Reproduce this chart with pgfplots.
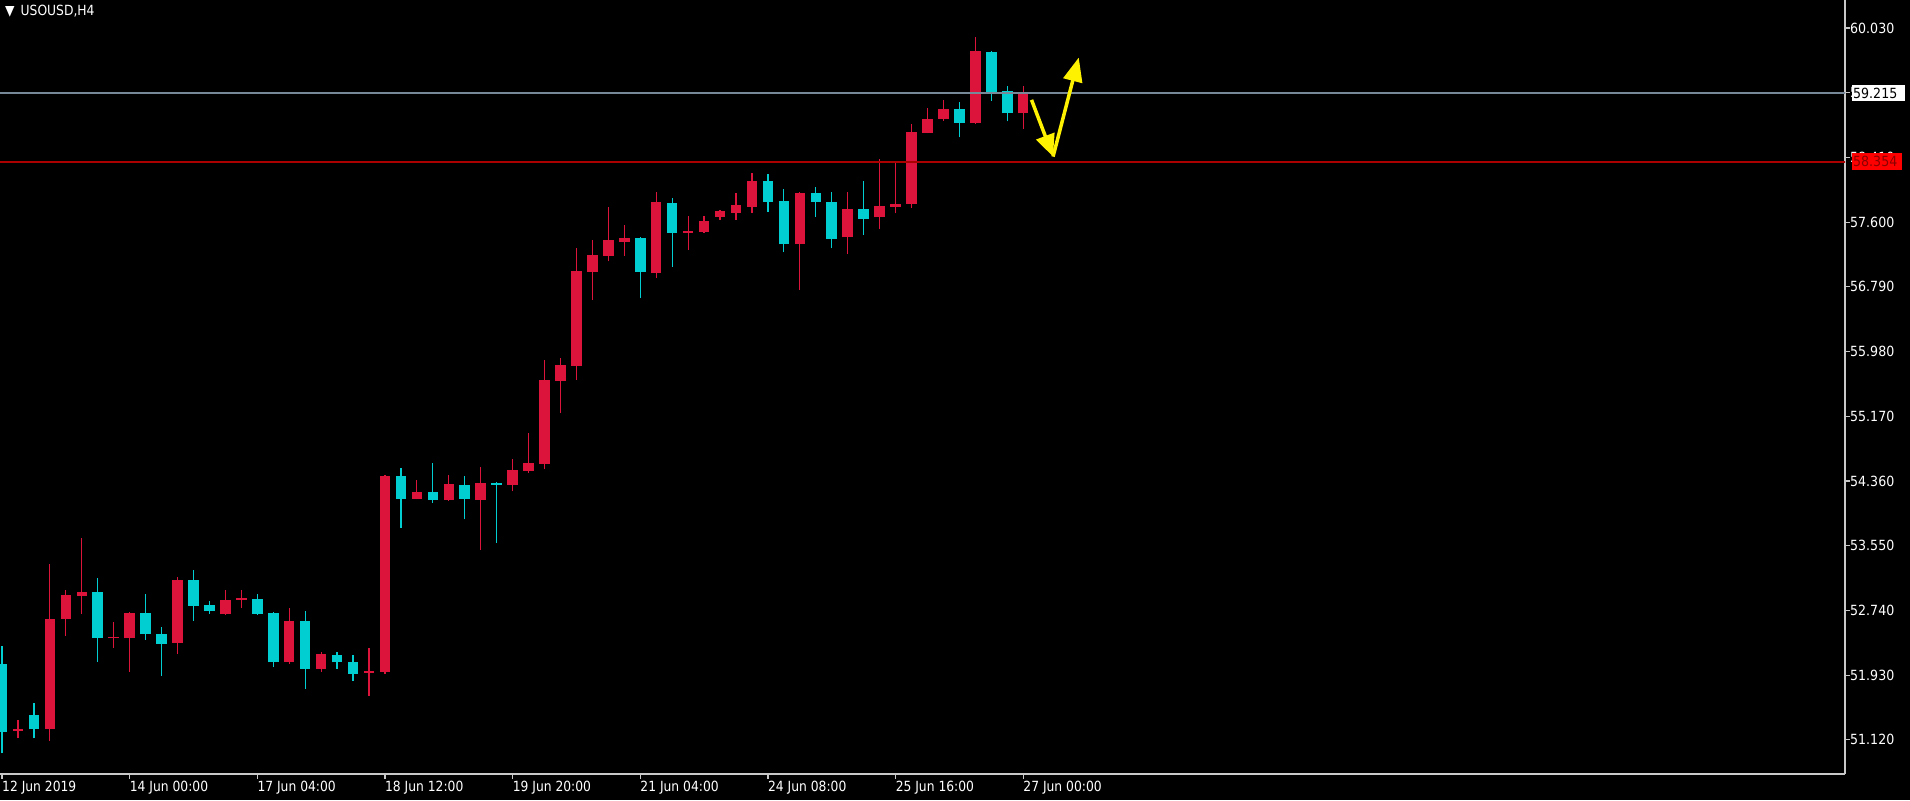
\documentclass[border=0pt]{standalone}
\usepackage{fontspec}
\usepackage{pgfplots}
\usepackage{pgfplotstable}
\pgfplotsset{compat=1.18}
\usetikzlibrary{arrows.meta}
\newfontfamily\mtfont[FakeStretch=0.88]{DejaVu Sans}
\newfontfamily\pxfont[FakeStretch=0.9]{DejaVu Sans}
\newcommand\labfont{\mtfont\fontsize{14pt}{16pt}\selectfont}
\newcommand\pricefont{\pxfont\fontsize{14pt}{16pt}\selectfont}
\definecolor{bullc}{RGB}{220,20,60}
\definecolor{bearc}{RGB}{0,206,209}
\definecolor{axcol}{RGB}{200,200,200}
\definecolor{bidc}{RGB}{119,136,153}
\definecolor{lvlc}{RGB}{170,0,0}
\definecolor{lvlbox}{RGB}{255,0,0}
\definecolor{lvltxt}{RGB}{140,0,0}

% USOUSD H4 candles, red = close above open
\pgfplotstableread{
i o h l c
1 51.23 51.37 51.14 51.25
3 51.26 53.32 51.11 52.63
4 52.63 53.00 52.42 52.93
5 52.92 53.65 52.70 52.97
7 52.39 52.59 52.27 52.41
8 52.39 52.72 51.97 52.71
11 52.33 53.16 52.19 53.12
14 52.69 52.99 52.68 52.87
15 52.87 53.00 52.77 52.89
18 52.10 52.77 52.07 52.61
20 52.01 52.22 51.975 52.19
23 51.96 52.27 51.67 51.98
24 51.97 54.43 51.95 54.42
26 54.14 54.37 54.13 54.22
28 54.12 54.44 54.11 54.32
30 54.12 54.53 53.50 54.34
32 54.31 54.64 54.23 54.50
33 54.49 54.96 54.46 54.59
34 54.57 55.87 54.51 55.62
35 55.61 55.90 55.21 55.81
36 55.80 57.27 55.63 56.99
37 56.98 57.38 56.63 57.19
38 57.18 57.79 57.11 57.37
39 57.35 57.56 57.18 57.40
41 56.96 57.98 56.90 57.85
43 57.47 57.68 57.25 57.49
44 57.48 57.68 57.47 57.61
45 57.67 57.75 57.63 57.74
46 57.72 57.96 57.63 57.81
47 57.79 58.22 57.72 58.12
50 57.32 57.98 56.75 57.97
53 57.41 57.98 57.20 57.77
55 57.66 58.39 57.52 57.80
56 57.79 58.36 57.71 57.83
57 57.83 58.83 57.78 58.73
58 58.72 59.03 58.71 58.89
59 58.89 59.13 58.87 59.02
61 58.84 59.92 58.83 59.74
64 58.96 59.30 58.77 59.22
}\bull

\pgfplotstableread{
i o h l c
0 52.07 52.29 50.95 51.22
2 51.43 51.58 51.14 51.25
6 52.97 53.15 52.10 52.39
9 52.71 52.95 52.37 52.44
10 52.45 52.53 51.92 52.32
12 53.12 53.25 52.61 52.80
13 52.81 52.86 52.70 52.73
16 52.88 52.95 52.68 52.70
17 52.71 52.72 52.03 52.09
19 52.61 52.73 51.76 52.01
21 52.18 52.22 52.01 52.09
22 52.10 52.18 51.86 51.95
25 54.42 54.52 53.77 54.14
27 54.22 54.59 54.09 54.12
29 54.31 54.42 53.88 54.14
31 54.34 54.35 53.59 54.31
40 57.40 57.41 56.65 56.98
42 57.84 57.90 57.04 57.47
48 58.12 58.20 57.73 57.85
49 57.86 58.01 57.22 57.32
51 57.97 58.04 57.67 57.85
52 57.85 57.98 57.27 57.39
54 57.77 58.11 57.44 57.64
60 59.02 59.10 58.66 58.84
62 59.73 59.74 59.12 59.23
63 59.24 59.30 58.86 58.96
}\bear

\begin{document}
\begin{tikzpicture}
\path[use as bounding box, fill=black] (0,0) rectangle (1910pt,800pt);
\begin{axis}[
  at={(0pt,26pt)}, anchor=south west,
  width=1845pt, height=774pt, scale only axis,
  xmin=-0.125, xmax=115.5, ymin=50.693, ymax=60.38,
  clip mode=individual,
  axis x line*=bottom, axis y line*=right,
  axis line style={draw=axcol, line width=1.2pt, -},
  tick align=outside, major tick length=5pt,
  tick style={draw=axcol, line width=1.2pt},
  xtick={0,8,16,24,32,40,48,56,64},
  xticklabels={12 Jun 2019,14 Jun 00:00,17 Jun 04:00,18 Jun 12:00,19 Jun 20:00,21 Jun 04:00,24 Jun 08:00,25 Jun 16:00,27 Jun 00:00},
  xticklabel style={anchor=north west, inner sep=0pt, text=white, font=\labfont, yshift=-2pt},
  ytick={51.12,51.93,52.74,53.55,54.36,55.17,55.98,56.79,57.6,58.41,59.22,60.03},
  yticklabels={51.120,51.930,52.740,53.550,54.360,55.170,55.980,56.790,57.600,58.410,59.220,60.030},
  yticklabel style={anchor=west, inner sep=0pt, text=white, font=\pricefont},
]
% wicks
\addplot[draw=none, mark=none, forget plot, error bars/.cd, y dir=plus, y explicit, error mark=none,
  error bar style={draw=bullc, line width=1.2pt}]
  table[x=i, y=l, y error plus expr={\thisrow{h}-\thisrow{l}}] {\bull};
\addplot[draw=none, mark=none, forget plot, error bars/.cd, y dir=plus, y explicit, error mark=none,
  error bar style={draw=bearc, line width=1.2pt}]
  table[x=i, y=l, y error plus expr={\thisrow{h}-\thisrow{l}}] {\bear};
% bodies
\addplot[draw=none, mark=none, forget plot, error bars/.cd, y dir=plus, y explicit, error mark=none,
  error bar style={draw=bullc, line width=10.5pt}]
  table[x=i, y=o, y error plus expr={max(\thisrow{c}-\thisrow{o},0.02)}] {\bull};
\addplot[draw=none, mark=none, forget plot, error bars/.cd, y dir=plus, y explicit, error mark=none,
  error bar style={draw=bearc, line width=10.5pt}]
  table[x=i, y=c, y error plus expr={max(\thisrow{o}-\thisrow{c},0.02)}] {\bear};
% bid and level lines
\addplot[draw=bidc, line width=1.2pt] coordinates {(-1,59.215) (116,59.215)};
\addplot[draw=lvlc, line width=1.4pt] coordinates {(-1,58.354) (116,58.354)};
% hand-drawn arrows
\addplot[draw=yellow, line width=3.5pt, -{Triangle[length=22pt,width=19pt]}] coordinates {(64.52,59.13) (65.87,58.42)};
\addplot[draw=yellow, line width=3.5pt, -{Triangle[length=24pt,width=19pt]}] coordinates {(65.87,58.42) (67.48,59.66)};
\coordinate (bidpt) at (axis cs:115.5,59.215);
\coordinate (lvlpt) at (axis cs:115.5,58.354);
\coordinate (tl) at (rel axis cs:0,1);
\end{axis}
\node[anchor=west, xshift=6.5pt, fill=white, text=black, font=\pricefont, inner xsep=1.5pt, inner ysep=0pt,
  minimum height=16pt, text width=50pt, align=left] at (bidpt) {59.215};
\node[anchor=west, xshift=6.5pt, fill=lvlbox, text=lvltxt, font=\pricefont, inner xsep=1.5pt, inner ysep=0pt,
  minimum height=17pt, text width=47pt, align=left] at (lvlpt) {58.354};
\node[anchor=west, text=white, font=\labfont, inner sep=0pt] at ([xshift=5pt,yshift=-11pt]tl) {▼\hspace{6pt}USOUSD,H4};
\end{tikzpicture}
\end{document}
